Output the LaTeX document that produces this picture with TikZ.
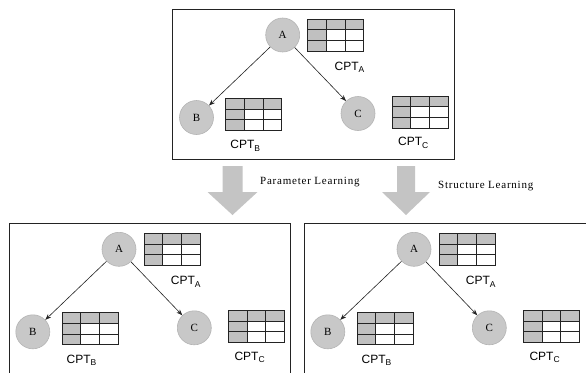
\documentclass[tikz,border=0pt]{standalone}
\usepackage{fontspec}
\setmainfont{Liberation Serif}
\setsansfont{Liberation Sans}
\newfontfamily\labfont[LetterSpace=7]{Liberation Serif}
\usetikzlibrary{arrows.meta}
\definecolor{circgray}{RGB}{200,200,200}
\definecolor{circedge}{RGB}{180,180,180}
\definecolor{cellgray}{RGB}{192,192,192}
\definecolor{arrgray}{RGB}{196,196,196}
\definecolor{linedark}{RGB}{35,35,35}
\newcommand\cptsub[1]{CPT\raisebox{-2.5pt}{\fontsize{8.5}{8.5}\selectfont #1}}
\newcommand\bnpanel[2]{%
  \begin{scope}[shift={(#2)}]
    \node[rv] (#1A) at (282.7,35) {A};
    \node[rv] (#1B) at (196.5,117.5) {B};
    \node[rv] (#1C) at (358,113.5) {C};
    \draw[link] (#1A) -- (#1B);
    \draw[link] (#1A) -- (#1C);
    \pic (#1tA) at (307.7,19) {cpttab};
    \pic (#1tB) at (225.7,98.3) {cpttab};
    \pic (#1tC) at (392,96) {cpttab};
    \node[cpt] (#1lA) at (349.5,67.5) {\cptsub{A}};
    \node[cpt] (#1lB) at (245.2,146) {\cptsub{B}};
    \node[cpt] (#1lC) at (413.3,143) {\cptsub{C}};
  \end{scope}}
\begin{document}
\begin{tikzpicture}[x=1pt,y=-1pt,
  frame/.style={draw=linedark, line width=1pt},
  rv/.style={circle, minimum size=34pt, inner sep=0pt, fill=circgray, draw=circedge, line width=0.6pt, font=\fontsize{11}{11}\selectfont},
  link/.style={-{Stealth[length=6pt,width=4.5pt]}, line width=0.6pt, draw=linedark},
  cpt/.style={font=\sffamily\fontsize{12}{12}\selectfont, inner sep=0pt},
  learn/.style={font=\labfont\fontsize{11}{11}\selectfont, anchor=west, inner sep=0pt},
  tabline/.style={draw=linedark, line width=0.8pt},
  cpttab/.pic={
    \fill[cellgray] (0,0) rectangle (56,10.67);
    \fill[cellgray] (0,10.67) rectangle (18.67,32);
    \fill[white] (18.67,10.67) rectangle (56,32);
    \draw[tabline] (0,0) rectangle (56,32);
    \draw[tabline] (18.67,0) -- (18.67,32) (37.33,0) -- (37.33,32);
    \draw[tabline] (0,10.67) -- (56,10.67) (0,21.33) -- (56,21.33);
  }]
\useasboundingbox (0,0) rectangle (586,372);
\fill[white] (0,0) rectangle (586,372);
% frames
\draw[frame] (172.7,9.3) rectangle (454.2,159.3);
\draw[frame] (9.3,380) -- (9.3,223.3) -- (290.7,223.3) -- (290.7,380);
\draw[frame] (304.3,380) -- (304.3,223.3) -- (590,223.3);
% panels
\bnpanel{t}{0,0}
\bnpanel{l}{-163.7,214.3}
\bnpanel{r}{131.3,214.3}
% big arrows
\fill[arrgray] (222.5,166) -- (242.5,166) -- (242.5,192) -- (257.5,192) -- (232.5,215) -- (207.5,192) -- (222.5,192) -- cycle;
\fill[arrgray] (397,166) -- (415,166) -- (415,192) -- (430,192) -- (406,215) -- (382,192) -- (397,192) -- cycle;
\node[learn] (pl) at (260,182) {Parameter Learning};
\node[learn] (sl) at (438,186) {Structure Learning};
\end{tikzpicture}
\end{document}
